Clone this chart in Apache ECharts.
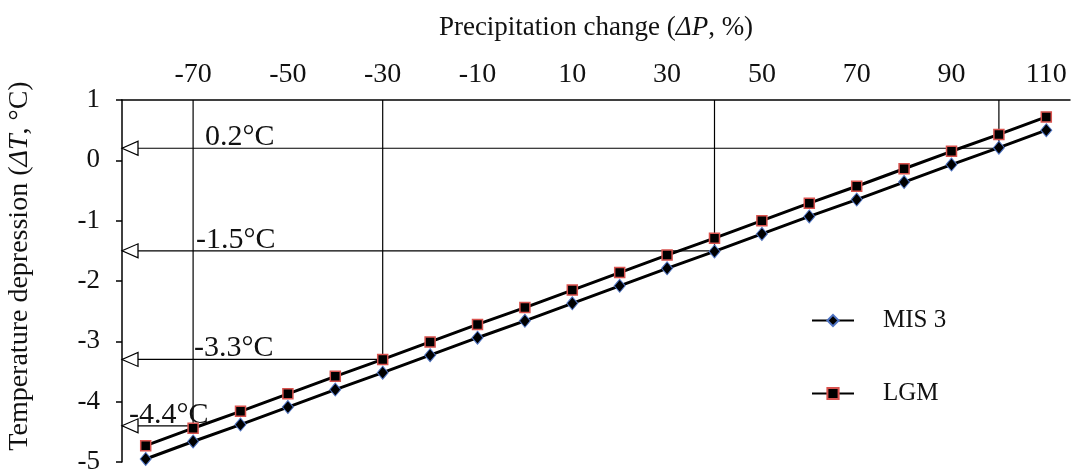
<!DOCTYPE html>
<html>
<head>
<meta charset="utf-8">
<script src="https://cdn.jsdelivr.net/npm/echarts@6/dist/echarts.min.js"></script>
<style>
  html, body { margin: 0; padding: 0; background: #fff; }
  #chart { width: 1075px; height: 470px; }
</style>
</head>
<body>
<div id="chart"></div>
<script>
// precipitation change categories (%)
var dpCats = [-80, -70, -60, -50, -40, -30, -20, -10, 0, 10, 20, 30, 40, 50, 60, 70, 80, 90, 100, 110];
// temperature depression (°C)
var mis3 = [-4.95, -4.66, -4.38, -4.09, -3.80, -3.52, -3.23, -2.94, -2.66, -2.37,
            -2.08, -1.79, -1.51, -1.22, -0.93, -0.65, -0.36, -0.07, 0.21, 0.50];
var lgm  = [-4.73, -4.44, -4.16, -3.87, -3.58, -3.30, -3.01, -2.72, -2.44, -2.15,
            -1.86, -1.57, -1.29, -1.00, -0.71, -0.43, -0.14, 0.15, 0.43, 0.72];
var yTicks = [1, 0, -1, -2, -3, -4, -5];

// reading guides: point on curve, value read at the axis, text
var guideX = [100, 40, -30, -70];
var guideY = [0.2, -1.5, -3.3, -4.4];
var guideText = ['0.2°C', '-1.5°C', '-3.3°C', '-4.4°C'];
var guideTextX = [-70, -70, -70, -85];
var guideTextDx = [12, 3, 1, 7];

var serif = 'Liberation Serif';
var xMin = -85, xMax = 115, yMax = 1;

var series = [
  {
    name: 'MIS 3', type: 'line', data: mis3,
    symbol: 'diamond', symbolSize: [11, 13],
    lineStyle: { color: '#000', width: 3 },
    itemStyle: { color: '#000', borderColor: '#4f74c4', borderWidth: 1 },
    z: 5
  },
  {
    name: 'LGM', type: 'line', data: lgm,
    symbol: 'rect', symbolSize: 10,
    lineStyle: { color: '#000', width: 3 },
    itemStyle: { color: '#000', borderColor: '#d9534f', borderWidth: 1.5 },
    z: 5
  }
];

// guide lines: from axis along to the curve, then up to the top axis
guideX.forEach(function (gx, i) {
  series.push({
    type: 'line', xAxisIndex: 1, silent: true, symbol: 'none',
    lineStyle: { color: '#000', width: 1.2 },
    data: [[xMin, guideY[i]], [gx, guideY[i]], [gx, yMax]],
    z: 2
  });
});

// open arrow heads on the y axis
series.push({
  type: 'scatter', xAxisIndex: 1, silent: true,
  symbol: 'triangle', symbolSize: [14, 16], symbolRotate: 90, symbolOffset: [8, 0],
  itemStyle: { color: '#fff', borderColor: '#000', borderWidth: 1.2, opacity: 1 },
  data: guideY.map(function (v) { return [xMin, v]; }),
  z: 3
});

// guide values
series.push({
  type: 'scatter', xAxisIndex: 1, silent: true, symbolSize: 0,
  itemStyle: { opacity: 1 },
  data: guideY.map(function (v, i) {
    return {
      value: [guideTextX[i], v],
      label: {
        show: true, formatter: guideText[i],
        position: [guideTextDx[i], 4], align: 'left', verticalAlign: 'bottom',
        fontFamily: serif, fontSize: 30, color: '#111'
      }
    };
  }),
  z: 4
});

var chart = echarts.init(document.getElementById('chart'));
chart.setOption({
  animation: false,
  backgroundColor: '#fff',
  grid: { left: 122, right: 5, top: 100, bottom: 8, outerBoundsMode: 'none' },
  legend: {
    data: ['MIS 3', 'LGM'],
    orient: 'vertical', left: 806, top: 303,
    itemWidth: 42, itemHeight: 14, itemGap: 48,
    textStyle: { fontFamily: serif, fontSize: 25, color: '#111', padding: [0, 0, 0, 24] }
  },
  xAxis: [
    {
      type: 'category', data: dpCats, position: 'top', boundaryGap: true,
      name: 'Precipitation change ({i|ΔP}, %)',
      nameLocation: 'middle', nameGap: 59,
      nameTextStyle: {
        fontFamily: serif, fontSize: 27, color: '#111',
        rich: { i: { fontFamily: serif, fontSize: 27, fontStyle: 'italic', color: '#111' } }
      },
      axisLine: { onZero: false, lineStyle: { color: '#000', width: 1.5 } },
      axisTick: { interval: 0, length: 7, lineStyle: { color: '#000', width: 1.5 } },
      axisLabel: {
        interval: function (idx) { return idx % 2 === 1; },
        margin: 11, fontFamily: serif, fontSize: 28, color: '#111'
      },
      splitLine: { show: false }
    },
    { type: 'value', min: xMin, max: xMax, show: false }
  ],
  yAxis: {
    type: 'value', min: -5, max: 1, interval: 1,
    name: 'Temperature depression ({i|ΔT}, °C)',
    nameLocation: 'middle', nameGap: 88, nameRotate: 90,
    nameTextStyle: {
      fontFamily: serif, fontSize: 28, color: '#111', padding: [0, 0, 0, 30],
      rich: { i: { fontFamily: serif, fontSize: 28, fontStyle: 'italic', color: '#111' } }
    },
    axisLine: { show: true, onZero: false, lineStyle: { color: '#000', width: 1.5 } },
    axisTick: { show: true, length: 6, lineStyle: { color: '#000', width: 1.5 } },
    axisLabel: {
      margin: 22, fontFamily: serif, fontSize: 27, color: '#111',
      formatter: function (v) { return yTicks.indexOf(v) >= 0 ? String(v) : ''; }
    },
    splitLine: { show: false }
  },
  series: series
});
</script>
</body>
</html>
